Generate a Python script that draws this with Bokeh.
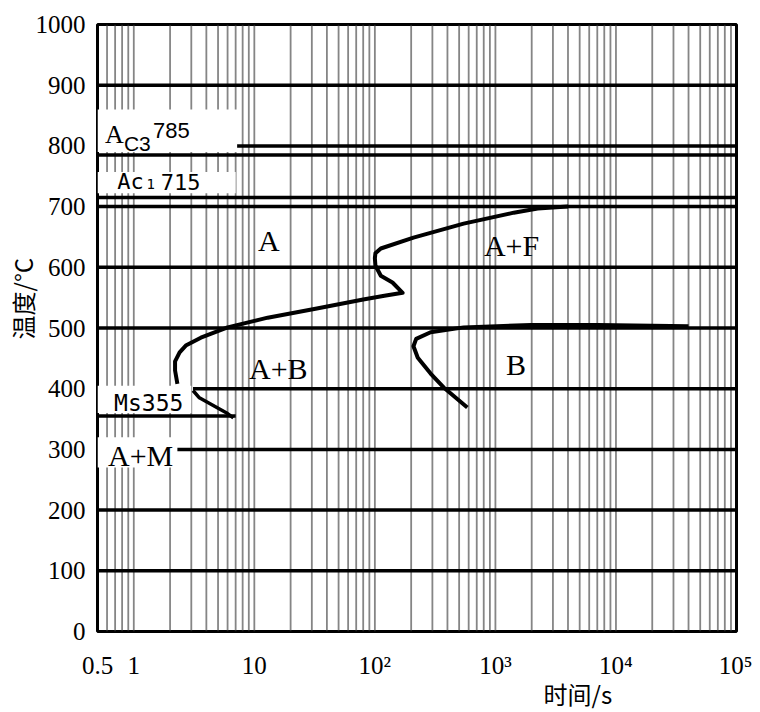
import numpy as np
from bokeh.plotting import figure
from bokeh.models import FixedTicker, Label, BoxAnnotation, Title
from bokeh.embed import file_html
from bokeh.resources import INLINE

# ---- data ----
x_ticks = [0.5, 1, 10, 100, 1000, 10000, 100000]
x_tick_labels = ["0.5", "1", "10", "10²", "10³", "10⁴", "10⁵"]
y_ticks = [0, 100, 200, 300, 400, 500, 600, 700, 800, 900, 1000]

grid_T = [100, 200, 300, 400, 500, 600, 700, 800, 900]
grid_start = [0.5, 0.5, 2.3, 3.1, 0.5, 0.5, 0.5, 7.2, 0.5]

Ac3_T = 785
Ac1_T = 715
Ms_T = 355
Ms_end_t = 7.0

# ferrite-start / upper C curve
upper_t = [2.3, 2.2, 2.2, 2.4, 2.7, 3.6, 6.0, 12.9, 33, 80, 120, 170, 140, 112, 101, 100, 101, 112, 209, 545, 1420, 2240, 4000]
upper_T = [408, 430, 445, 460, 471, 484, 501, 517, 532, 547, 553, 558, 575, 586, 603, 615, 623, 631, 649, 672, 690, 697, 700]

# bainite C curve
lower_t = [585, 372, 290, 227, 209, 220, 290, 545, 1970, 7050, 40000]
lower_T = [369, 402, 425, 451, 470, 482, 493, 501, 505, 505, 503]

# small curve above Ms
ms_t = [3.1, 3.5, 6.0, 6.7]
ms_T = [397, 385, 359, 352]

p = figure(width=752, height=712, x_axis_type="log",
           x_range=(0.5, 100000), y_range=(0, 1000),
           output_backend="svg", toolbar_location=None,
           min_border_left=97, min_border_right=16,
           min_border_top=24, min_border_bottom=81)
p.xgrid.visible = False
p.ygrid.visible = False
p.outline_line_color = "black"
p.outline_line_width = 3
p.background_fill_color = "white"
p.border_fill_color = "white"

# log-paper vertical rulings
vx = []
for d in range(-1, 5):
    for k in range(1, 10):
        v = k * 10.0 ** d
        if 0.5 < v < 100000:
            vx.append(v)
vr = p.segment(x0=vx, x1=vx, y0=[0] * len(vx), y1=[1000] * len(vx),
               line_color="#333333", line_width=1.8, line_alpha=0.6)
vr.level = "image"

# white label boxes (cover the rulings)
for l, r, b, t in [(0.5, 7.2, 790, 860), (0.5, 7.0, 722, 757),
                   (0.5, 3.0, 360, 405), (0.5, 2.3, 270, 320)]:
    box = BoxAnnotation(left=l, right=r, bottom=b, top=t,
                        fill_color="white", fill_alpha=1.0, line_alpha=0)
    box.level = "underlay"
    p.add_layout(box)

# horizontal lines
p.segment(x0=grid_start, x1=[100000] * len(grid_T), y0=grid_T, y1=grid_T,
          line_color="black", line_width=3.5)
for T in [Ac3_T, Ac1_T]:
    p.line([0.5, 100000], [T, T], line_color="black", line_width=3.5)
p.line([0.5, Ms_end_t], [Ms_T, Ms_T], line_color="black", line_width=3.5)

# curves
p.line(upper_t, upper_T, line_color="black", line_width=4, line_join="round")
p.line(lower_t, lower_T, line_color="black", line_width=4, line_join="round")
p.line(ms_t, ms_T, line_color="black", line_width=3.5, line_join="round")

# axes
p.xaxis.ticker = FixedTicker(ticks=x_ticks)
p.xaxis.major_label_overrides = {t: s for t, s in zip(x_ticks, x_tick_labels)}
p.yaxis.ticker = FixedTicker(ticks=y_ticks)
for ax in [p.xaxis[0], p.yaxis[0]]:
    ax.axis_line_color = None
    ax.major_tick_line_color = None
    ax.minor_tick_line_color = None
    ax.major_label_text_font = "Liberation Serif"
    ax.major_label_text_font_size = "25px"
    ax.major_label_text_color = "black"
p.yaxis.major_label_standoff = 6
p.xaxis.major_label_standoff = 14

# axis titles as positioned side titles
p.add_layout(Title(text="时间/s", align="left", offset=446, standoff=-15,
                   text_font="Noto Sans CJK SC", text_font_size="24px",
                   text_font_style="normal", text_color="#000000"), "below")
p.add_layout(Title(text="温度/°C", align="left", offset=292, standoff=-14,
                   text_font="Noto Sans CJK SC", text_font_size="24px",
                   text_font_style="normal", text_color="#000000"), "left")

def lab(x, y, text, font="Liberation Serif", size="30px", style="normal", angle=0):
    p.add_layout(Label(x=x, y=y, text=text, text_font=font, text_font_size=size,
                       text_font_style=style, text_align="center",
                       text_baseline="middle", text_color="black", angle=angle))

# region labels
lab(13.2, 644, "A")
lab(1360, 636, "A+F")
lab(15.8, 433, "A+B")
lab(1480, 440, "B")
lab(1.14, 290, "A+M")
lab(1.33, 376, "Ms355", font="DejaVu Sans Mono", size="23px")

# Ac3 label
lab(0.69, 819, "A", size="26px")
lab(1.07, 804, "C3", font="Liberation Sans", size="21px")
lab(2.05, 825, "785", font="Liberation Sans", size="22px")
# Ac1 label
lab(0.94, 741, "Ac", font="DejaVu Sans Mono", size="22px")
lab(1.38, 737, "1", font="DejaVu Sans Mono", size="14px")
lab(2.45, 741, "715", font="DejaVu Sans Mono", size="22px")

open("out.html", "w").write(file_html(p, INLINE))
